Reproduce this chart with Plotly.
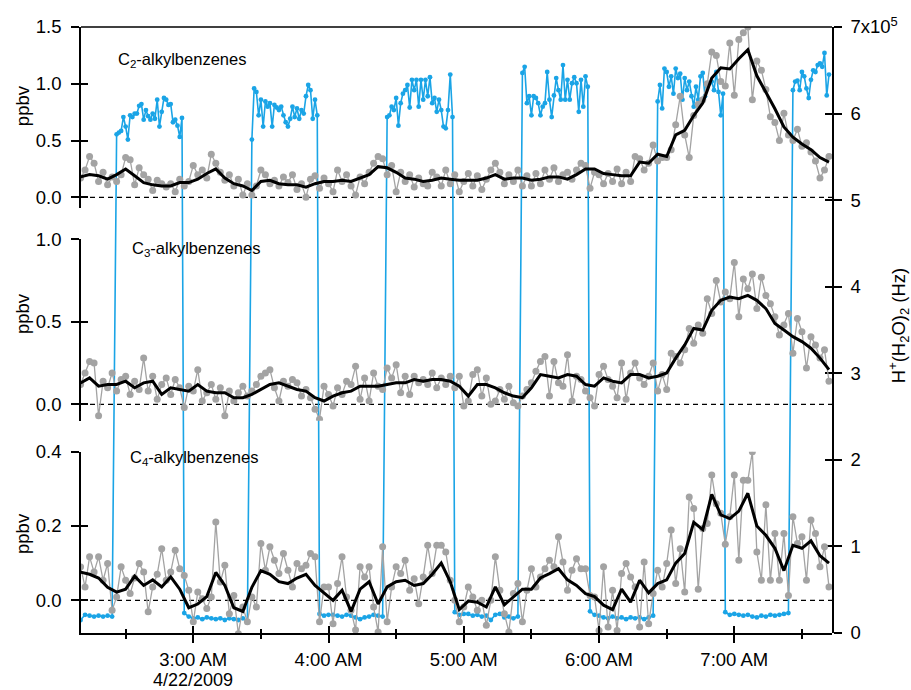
import pandas as pd
import plotly.graph_objects as go

# ---------------- data ----------------
T0 = pd.Timestamp("2009-04-22 02:10:00")

# raw C2 (ppbv), every 2 min from 02:10
c2_raw = [
    0.17, 0.24, 0.36, 0.30, 0.14, 0.22, 0.11, 0.18, 0.14, 0.20,
    0.35, 0.33, 0.11, 0.26, 0.20, 0.16, 0.06, 0.15, 0.12, 0.09,
    0.12, 0.05, 0.16, 0.10, 0.14, 0.28, 0.20, 0.24, 0.17, 0.38,
    0.30, 0.22, 0.15, 0.20, 0.10, 0.16, 0.02, 0.12, 0.02, 0.10,
    0.24, 0.20, 0.12, 0.15, 0.10, 0.18, 0.13, 0.20, 0.07, 0.12,
    0.00, 0.16, 0.19, 0.08, 0.17, 0.12, 0.05, 0.24, 0.14, 0.20,
    0.10, 0.02, 0.18, 0.12, 0.22, 0.30, 0.36, 0.34, 0.20, 0.28,
    0.05, 0.22, 0.14, 0.20, 0.09, 0.17, 0.12, 0.10, 0.22, 0.18,
    0.10, 0.24, 0.12, 0.20, 0.05, 0.14, 0.21, 0.10, 0.19, 0.07,
    0.16, 0.24, 0.30, 0.22, 0.12, 0.20, 0.14, 0.24, 0.10, 0.19,
    0.10, 0.21, 0.12, 0.24, 0.16, 0.26, 0.14, 0.20, 0.22, 0.16,
    0.24, 0.30, 0.28, 0.08, 0.22, 0.20, 0.12, 0.21, 0.14, 0.25,
    0.12, 0.22, 0.14, 0.36, 0.34, 0.24, 0.30, 0.46, 0.32, 0.35,
    0.35, 0.42, 0.64, 0.89, 0.55, 0.35, 0.72, 0.82, 0.86, 1.00,
    1.28, 1.25, 1.02, 0.98, 1.36, 0.90, 1.39, 1.45, 1.50, 0.86,
    1.20, 1.12, 0.95, 0.71, 0.66, 0.50, 0.74, 0.55, 0.50, 0.60,
    0.45, 0.48, 0.40, 0.32, 0.17, 0.24, 0.36,
]
# smoothed C2 (ppbv), every 4 min
c2_smooth = [
    0.18, 0.20, 0.19, 0.16, 0.20, 0.25, 0.19, 0.13, 0.11, 0.10,
    0.10, 0.13, 0.13, 0.16, 0.21, 0.25, 0.17, 0.12, 0.10, 0.06,
    0.14, 0.15, 0.12, 0.11, 0.11, 0.09, 0.12, 0.14, 0.14, 0.15,
    0.14, 0.17, 0.20, 0.27, 0.26, 0.22, 0.17, 0.16, 0.14, 0.15,
    0.17, 0.16, 0.15, 0.15, 0.15, 0.17, 0.20, 0.16, 0.17, 0.17,
    0.15, 0.16, 0.18, 0.18, 0.16, 0.20, 0.25, 0.25, 0.21, 0.20,
    0.19, 0.19, 0.31, 0.30, 0.38, 0.36, 0.55, 0.59, 0.72, 0.83,
    1.05, 1.14, 1.13, 1.22, 1.30, 1.07, 0.93, 0.78, 0.62, 0.53,
    0.47, 0.42, 0.35, 0.31,
]

c3_raw = [
    0.12, 0.19, 0.26, 0.25, -0.07, 0.14, 0.10, 0.19, 0.08, 0.15,
    0.17, 0.06, 0.14, 0.09, 0.28, 0.08, 0.17, 0.03, 0.12, 0.16,
    0.06, 0.15, 0.10, -0.02, 0.11, 0.08, 0.21, 0.02, 0.07, 0.12,
    0.03, 0.10, -0.07, 0.08, 0.02, 0.07, 0.11, 0.05, 0.08, 0.12,
    0.17, 0.19, 0.21, 0.10, 0.02, 0.14, 0.11, 0.15, 0.13, 0.05,
    0.09, 0.04, -0.03, -0.09, 0.11, 0.06, -0.01, 0.10, 0.06, 0.14,
    0.12, 0.23, 0.03, 0.16, 0.02, 0.19, 0.11, 0.09, 0.22, 0.16,
    0.24, 0.07, 0.17, 0.06, 0.17, 0.13, 0.15, 0.12, 0.19, 0.10,
    0.16, 0.12, 0.17, 0.10, 0.17, -0.01, 0.02, 0.18, 0.21, 0.05,
    0.16, 0.00, 0.02, 0.09, 0.03, 0.11, 0.01, -0.01, 0.05, 0.09,
    0.13, 0.20, 0.26, 0.29, 0.05, 0.26, 0.13, 0.11, 0.30, 0.02,
    0.17, 0.15, 0.08, 0.04, -0.01, 0.18, 0.23, 0.15, 0.11, 0.04,
    0.25, 0.03, 0.19, 0.25, 0.16, 0.12, 0.17, 0.25, 0.08, 0.18,
    0.09, 0.31, 0.29, 0.25, 0.33, 0.46, 0.37, 0.48, 0.43, 0.64,
    0.55, 0.75, 0.62, 0.68, 0.64, 0.86, 0.53, 0.76, 0.70, 0.79,
    0.58, 0.77, 0.66, 0.61, 0.53, 0.42, 0.48, 0.55, 0.31, 0.52,
    0.44, 0.22, 0.41, 0.36, 0.28, 0.33, 0.14,
]
c3_smooth = [
    0.13, 0.16, 0.11, 0.12, 0.12, 0.14, 0.10, 0.13, 0.14, 0.06,
    0.10, 0.09, 0.08, 0.12, 0.08, 0.07, 0.07, 0.04, 0.04, 0.06,
    0.09, 0.12, 0.13, 0.11, 0.09, 0.08, 0.04, 0.02, 0.05, 0.07,
    0.08, 0.11, 0.11, 0.11, 0.12, 0.13, 0.13, 0.15, 0.14, 0.15,
    0.15, 0.14, 0.11, 0.05, 0.12, 0.12, 0.10, 0.07, 0.05, 0.04,
    0.10, 0.18, 0.17, 0.16, 0.18, 0.17, 0.12, 0.11, 0.16, 0.14,
    0.13, 0.18, 0.18, 0.16, 0.17, 0.19, 0.28, 0.36, 0.46, 0.45,
    0.57, 0.63, 0.65, 0.64, 0.66, 0.63, 0.58, 0.49, 0.45, 0.41,
    0.38, 0.34, 0.28, 0.21,
]

c4_raw = [
    0.090, 0.036, 0.117, 0.076, 0.117, 0.054, 0.099, -0.027, 0.009, 0.090,
    0.054, 0.018, 0.060, 0.099, 0.076, -0.031, 0.036, 0.070, 0.139, 0.054,
    0.076, 0.135, 0.085, 0.067, 0.027, -0.058, 0.022, 0.004, -0.022, 0.009,
    0.211, 0.049, 0.094, -0.036, 0.013, -0.090, -0.018, -0.058, 0.009, -0.018,
    0.153, 0.081, 0.144, 0.108, 0.072, 0.126, 0.081, 0.036, 0.099, 0.085,
    0.094, 0.126, 0.117, -0.058, 0.036, 0.036, -0.063, 0.045, 0.117, 0.009,
    -0.027, -0.080, 0.090, 0.063, 0.090, -0.018, -0.085, 0.144, -0.058, 0.036,
    0.090, 0.072, 0.108, 0.027, 0.058, -0.009, 0.063, 0.148, 0.072, 0.148,
    0.148, 0.130, 0.054, 0.000, -0.058, -0.018, 0.036, 0.009, -0.027, 0.000,
    -0.067, 0.000, 0.117, 0.027, -0.036, -0.085, 0.018, 0.045, -0.058, 0.027,
    0.085, 0.036, 0.063, 0.085, 0.108, 0.090, 0.171, 0.103, 0.027, 0.081,
    0.112, 0.085, 0.085, 0.013, 0.009, -0.081, 0.090, -0.072, 0.027, -0.081,
    0.072, 0.099, 0.063, 0.036, -0.072, 0.103, -0.063, 0.018, 0.081, 0.036,
    0.099, 0.189, 0.045, 0.139, 0.022, 0.278, 0.247, 0.030, 0.193, 0.207,
    0.337, 0.260, 0.234, 0.151, 0.225, 0.337, 0.108, 0.323, 0.323, 0.400,
    0.130, 0.054, 0.257, 0.054, 0.180, 0.054, 0.180, 0.013, 0.225, 0.153,
    0.171, 0.054, 0.216, 0.180, 0.090, 0.144, 0.036,
]
c4_smooth = [
    0.076, 0.070, 0.060, 0.035, 0.022, 0.030, 0.065, 0.040, 0.055, 0.036,
    0.063, 0.030, -0.020, -0.010, 0.010, 0.075, 0.040, -0.020, -0.030, 0.035,
    0.080, 0.070, 0.050, 0.045, 0.060, 0.070, 0.040, 0.020, 0.000, 0.027,
    -0.030, 0.030, 0.050, -0.010, 0.036, 0.050, 0.054, 0.040, 0.045, 0.070,
    0.100, 0.050, -0.025, -0.002, -0.005, -0.018, 0.036, -0.012, 0.010, 0.030,
    0.030, 0.060, 0.072, 0.085, 0.055, 0.040, 0.018, 0.010, -0.013, -0.025,
    0.030, -0.005, 0.054, 0.020, 0.045, 0.055, 0.100, 0.126, 0.210, 0.190,
    0.285, 0.230, 0.220, 0.240, 0.288, 0.200, 0.175, 0.140, 0.080, 0.148,
    0.140, 0.160, 0.120, 0.100,
]

# H+(H2O)2 signal in units of 1e5 Hz: segments (start minute, step minutes, values)
h3o_low0 = [0.15, 0.21, 0.20, 0.19, 0.20, 0.19, 0.20, 0.19]
h3o_high1 = [5.76, 5.78, 5.80, 5.96, 5.85, 5.70, 5.98, 5.96, 6.00, 6.00, 6.09, 6.11, 5.93, 6.04, 5.97,
             5.93, 6.00, 5.94, 6.16, 5.85, 6.02, 6.18, 6.16, 6.10, 6.11, 5.90, 5.93, 5.86, 5.73, 5.95]
h3o_low1 = [0.23, 0.19, 0.17, 0.18, 0.16, 0.18, 0.17, 0.16, 0.17, 0.15, 0.17, 0.16, 0.15, 0.17, 0.13]
h3o_high2 = [5.70, 6.29, 6.25, 5.98, 6.16, 5.85, 6.14, 6.08, 6.12, 5.85, 6.10, 6.07, 6.04, 6.08, 5.98,
             5.90, 5.85, 5.94, 6.08, 5.96, 6.06, 5.94, 6.04, 6.00, 6.20, 6.33, 6.27, 5.94, 6.16, 5.98]
h3o_low2 = [0.22, 0.20, 0.21, 0.21, 0.20, 0.19, 0.21, 0.20, 0.18, 0.16, 0.18, 0.19, 0.21, 0.20, 0.19]
h3o_high3 = [5.96, 5.98, 6.08, 6.04, 6.18, 5.86, 6.12, 6.23, 6.27, 6.33, 6.07, 6.39, 6.27, 6.39, 6.08,
             6.39, 6.16, 6.39, 6.20, 6.42, 6.12, 6.18, 6.02, 6.16, 6.04, 5.85, 5.83, 6.04, 6.45, 5.96]
h3o_low3 = [0.24, 0.21, 0.22, 0.22, 0.20, 0.21, 0.19, 0.20, 0.15, 0.21, 0.22, 0.18, 0.19, 0.17, 0.19]
h3o_high4 = [6.47, 6.54, 6.12, 6.20, 5.98, 6.20, 6.18, 6.12, 5.98, 6.08, 6.12, 6.48, 6.16, 5.96, 6.21,
             6.41, 6.27, 6.16, 6.56, 6.16, 6.39, 6.16, 6.35, 6.42, 6.35, 6.02, 6.39, 6.08, 6.43, 6.31]
h3o_low4 = [0.25, 0.21, 0.20, 0.18, 0.17, 0.19, 0.17, 0.18, 0.16, 0.18, 0.17, 0.18, 0.16, 0.18, 0.20]
h3o_high5 = [6.14, 6.33, 6.06, 6.52, 6.48, 6.31, 6.43, 6.23, 6.52, 6.41, 6.46, 6.16, 6.41, 6.27, 6.37,
             6.20, 6.08, 6.31, 6.16, 6.43, 6.47, 6.20, 6.31, 6.35, 6.37, 6.27, 6.48, 6.25, 5.98, 6.23]
h3o_low5 = [0.24, 0.21, 0.22, 0.21, 0.20, 0.21, 0.19, 0.18, 0.20, 0.19, 0.21, 0.20, 0.21, 0.22, 0.23]
h3o_high6 = [6.27, 6.37, 6.38, 6.27, 6.48, 6.43, 6.29, 6.18, 6.39, 6.50, 6.48, 6.56, 6.58, 6.54, 6.70,
             6.21, 6.45]
h3o_segments = [
    (0, 2, h3o_low0), (16, 1, h3o_high1), (46, 2, h3o_low1), (76, 1, h3o_high2),
    (106, 2, h3o_low2), (136, 1, h3o_high3), (166, 2, h3o_low3), (196, 1, h3o_high4),
    (226, 2, h3o_low4), (256, 1, h3o_high5), (286, 2, h3o_low5), (316, 1, h3o_high6),
]

panel_labels = ["C<sub>2</sub>-alkylbenzenes", "C<sub>3</sub>-alkylbenzenes", "C<sub>4</sub>-alkylbenzenes"]
hour_ticks = ["2009-04-22 03:00", "2009-04-22 04:00", "2009-04-22 05:00", "2009-04-22 06:00", "2009-04-22 07:00"]
hour_labels = ["3:00 AM", "4:00 AM", "5:00 AM", "6:00 AM", "7:00 AM"]
date_label = "4/22/2009"
half_ticks = ["2009-04-22 02:30", "2009-04-22 03:30", "2009-04-22 04:30",
              "2009-04-22 05:30", "2009-04-22 06:30", "2009-04-22 07:30"]
right_ticks = [0, 1, 2, 3, 4, 5, 6, 7]
right_labels = ["0", "1", "2", "3", "4", "5", "6", "7x10<sup>5</sup>"]
x_range = ["2009-04-22 02:10:12", "2009-04-22 07:43:20"]

# ---------------- build ----------------
def stamps(start, step, n):
    return [T0 + pd.Timedelta(minutes=start + step * i) for i in range(n)]

assert len(c2_raw) == len(c3_raw) == len(c4_raw) == 167
assert len(c2_smooth) == len(c3_smooth) == len(c4_smooth) == 84

raw_t = stamps(0, 2, 167)
smooth_t = stamps(0, 4, 84)

h3o_t, h3o_v = [], []
for start, step, vals in h3o_segments:
    h3o_t += stamps(start, step, len(vals))
    h3o_v += vals

GRAY = "#a3a3a3"
BLUE = "#1aa4e6"
FONT = "Liberation Sans, Arial, sans-serif"
FS = 18.5

fig = go.Figure()
fig.add_trace(go.Scatter(x=h3o_t, y=h3o_v, mode="lines+markers", xaxis="x", yaxis="y",
                         line=dict(color=BLUE, width=1.6), marker=dict(color=BLUE, size=4.8),
                         showlegend=False))

for yax, raw, smooth in [("y2", c2_raw, c2_smooth), ("y3", c3_raw, c3_smooth), ("y4", c4_raw, c4_smooth)]:
    fig.add_trace(go.Scatter(x=raw_t, y=raw, mode="lines+markers", xaxis="x", yaxis=yax,
                             line=dict(color=GRAY, width=1.3), marker=dict(color=GRAY, size=7),
                             showlegend=False))
    fig.add_trace(go.Scatter(x=smooth_t, y=smooth, mode="lines", xaxis="x", yaxis=yax,
                             line=dict(color="black", width=3), showlegend=False))

# empty traces so the companion (inner-tick) axes are surely drawn
for xa, ya in [("x2", "y4"), ("x", "y5"), ("x", "y6"), ("x", "y7"), ("x", "y8")]:
    fig.add_trace(go.Scatter(x=[], y=[], mode="lines", xaxis=xa, yaxis=ya, showlegend=False,
                             hoverinfo="skip"))

axis_common = dict(showline=True, linecolor="black", linewidth=1.5, ticks="outside",
                   ticklen=8, tickwidth=1.5, tickcolor="black", showgrid=False, zeroline=False,
                   automargin=False, tickfont=dict(family=FONT, size=FS, color="black"))
# companion axes that only draw the inner half of the crossing tick marks
inner_common = dict(showline=False, ticks="inside", ticklen=7, tickwidth=1.5, tickcolor="black",
                    showgrid=False, zeroline=False, showticklabels=False, automargin=False)

dom_top, dom_mid, dom_bot = [0.7013, 1], [0.3503, 0.6497], [0, 0.2992]
rng_top, rng_mid, rng_bot = [-0.094, 1.5], [-0.0994, 1.0], [-0.088, 0.4]
tv_top, tv_mid, tv_bot = [0, 0.5, 1.0, 1.5], [0, 0.5, 1.0], [0, 0.2, 0.4]

fig.update_layout(
    template="none",
    width=911, height=690, autosize=False,
    margin=dict(l=81, r=79, t=27, b=57, pad=0),
    paper_bgcolor="white", plot_bgcolor="rgba(0,0,0,0)",
    font=dict(family=FONT, size=FS, color="black"),
    showlegend=False,
    xaxis=dict(domain=[0, 1], anchor="y4", type="date", range=x_range,
               tickmode="array", tickvals=hour_ticks, ticktext=hour_labels,
               minor=dict(tickmode="array", tickvals=half_ticks, ticks="outside",
                          ticklen=4, tickwidth=1.5, tickcolor="black", showgrid=False),
               ticklabelstandoff=1, **axis_common),
    xaxis2=dict(domain=[0, 1], anchor="y4", overlaying="x", type="date", range=x_range,
                tickmode="array", tickvals=hour_ticks,
                minor=dict(tickmode="array", tickvals=half_ticks, ticks="inside",
                           ticklen=4, tickwidth=1.5, tickcolor="black", showgrid=False),
                **inner_common),
    yaxis=dict(domain=[0, 1], anchor="x", side="right", range=[0, 7],
               tickmode="array", tickvals=right_ticks, ticktext=right_labels,
               ticklabelstandoff=5, **axis_common),
    yaxis2=dict(domain=dom_top, anchor="x", range=rng_top, tickmode="array", tickvals=tv_top,
                ticktext=["0.0", "0.5", "1.0", "1.5"], ticklabelstandoff=6, **axis_common),
    yaxis3=dict(domain=dom_mid, anchor="x", range=rng_mid, tickmode="array", tickvals=tv_mid,
                ticktext=["0.0", "0.5", "1.0"], ticklabelstandoff=6, **axis_common),
    yaxis4=dict(domain=dom_bot, anchor="x", range=rng_bot, tickmode="array", tickvals=tv_bot,
                ticktext=["0.0", "0.2", "0.4"], ticklabelstandoff=6, **axis_common),
    yaxis5=dict(domain=[0, 1], anchor="x", side="right", overlaying="y", range=[0, 7],
                tickmode="array", tickvals=right_ticks, **inner_common),
    yaxis6=dict(domain=dom_top, anchor="x", overlaying="y2", range=rng_top,
                tickmode="array", tickvals=tv_top, **inner_common),
    yaxis7=dict(domain=dom_mid, anchor="x", overlaying="y3", range=rng_mid,
                tickmode="array", tickvals=tv_mid, **inner_common),
    yaxis8=dict(domain=dom_bot, anchor="x", overlaying="y4", range=rng_bot,
                tickmode="array", tickvals=tv_bot, **inner_common),
)

shapes = [dict(type="line", xref="paper", yref="paper", x0=0, x1=1, y0=1, y1=1,
               line=dict(color="black", width=1.5))]
for yref in ["y2", "y3", "y4"]:
    shapes.append(dict(type="line", xref="paper", yref=yref, x0=0, x1=1, y0=0, y1=0,
                       line=dict(color="black", width=1.2, dash="5px,4px"), layer="below"))
fig.update_layout(shapes=shapes)

annotations = []
for label, (ax, ay) in zip(panel_labels, [(0.0466, 0.9455), (0.0652, 0.6337), (0.0626, 0.2888)]):
    annotations.append(dict(text=label, x=ax, y=ay, xref="paper", yref="paper", xanchor="left",
                            yanchor="middle", showarrow=False, font=dict(family=FONT, size=16.5)))
for ay in [0.871, 0.528, 0.165]:
    annotations.append(dict(text="ppbv", x=-0.0786, y=ay, xref="paper", yref="paper",
                            xanchor="center", yanchor="middle", textangle=-90, showarrow=False,
                            font=dict(family=FONT, size=FS)))
annotations.append(dict(text="H<sup>+</sup>(H<sub>2</sub>O)<sub>2</sub> (Hz)", x=1.088, y=0.508,
                        xref="paper", yref="paper", xanchor="center", yanchor="middle",
                        textangle=-90, showarrow=False, font=dict(family=FONT, size=FS)))
annotations.append(dict(text=date_label, x=hour_ticks[0], y=-0.0776, xref="x", yref="paper",
                        xanchor="center", yanchor="middle", showarrow=False, borderpad=0,
                        font=dict(family=FONT, size=18)))
fig.update_layout(annotations=annotations)

fig.write_html("out.html")
